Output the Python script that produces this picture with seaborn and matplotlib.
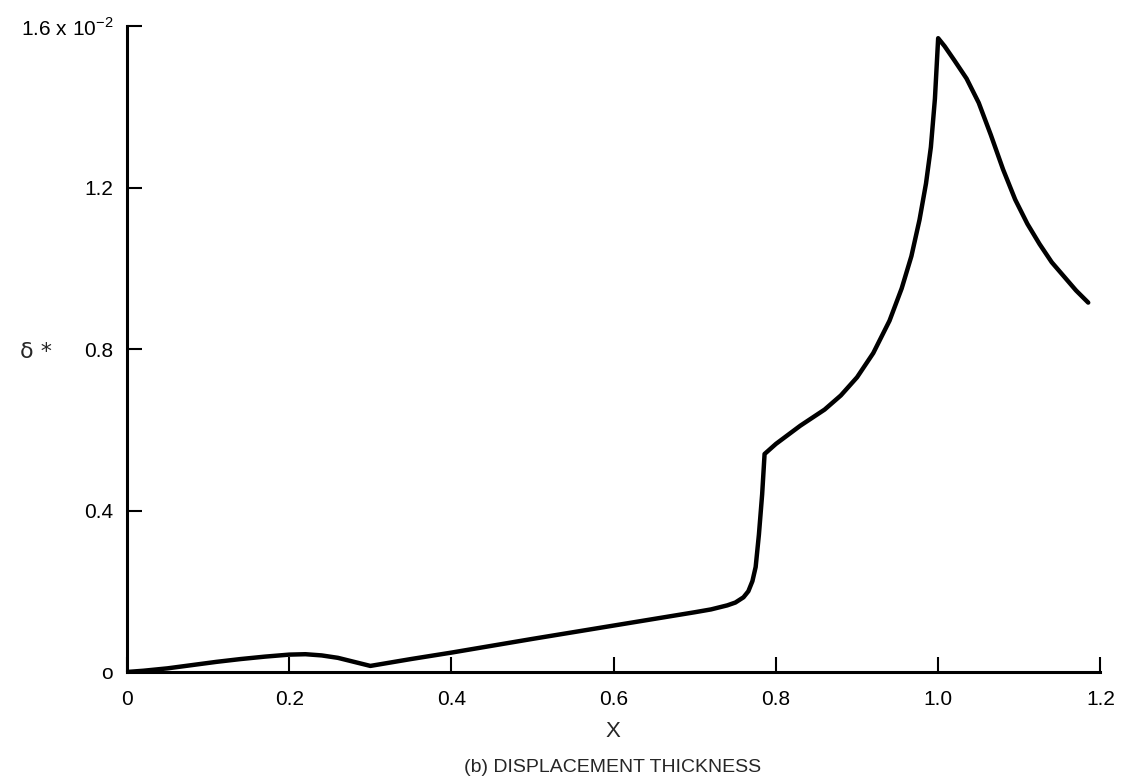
import numpy as np
import pandas as pd
import matplotlib
matplotlib.use("Agg")
import matplotlib.pyplot as plt
import seaborn as sns

# displacement thickness, delta* in units of 1e-2
x_vals = [0.0, 0.02, 0.05, 0.08, 0.11, 0.14, 0.17, 0.20, 0.22, 0.24,
          0.26, 0.28, 0.30, 0.35, 0.40, 0.50, 0.60, 0.70, 0.72, 0.74,
          0.75, 0.76, 0.766, 0.771, 0.775, 0.779, 0.783, 0.786, 0.80, 0.83,
          0.86, 0.88, 0.90, 0.92, 0.94, 0.955, 0.967, 0.977, 0.985, 0.991,
          0.996, 1.0, 1.008, 1.02, 1.035, 1.05, 1.065, 1.08, 1.095, 1.11,
          1.125, 1.14, 1.155, 1.17, 1.185]
delta_vals = [0.0, 0.003, 0.009, 0.017, 0.025, 0.032, 0.038, 0.043, 0.044, 0.041,
              0.035, 0.025, 0.015, 0.032, 0.048, 0.082, 0.115, 0.148, 0.155, 0.165,
              0.172, 0.185, 0.200, 0.225, 0.260, 0.340, 0.440, 0.540, 0.565, 0.610,
              0.650, 0.685, 0.730, 0.790, 0.870, 0.950, 1.030, 1.120, 1.210, 1.300,
              1.420, 1.570, 1.550, 1.515, 1.470, 1.410, 1.330, 1.245, 1.170, 1.110,
              1.060, 1.015, 0.980, 0.945, 0.915]

x_ticks = [0, 0.2, 0.4, 0.6, 0.8, 1.0, 1.2]
x_ticklabels = ["0", "0.2", "0.4", "0.6", "0.8", "1.0", "1.2"]
y_ticks = [0, 0.4, 0.8, 1.2, 1.6]
y_ticklabels = ["o", "0.4", "0.8", "1.2", r"1.6 x 10$^{-2}$"]

df = pd.DataFrame({"x": x_vals, "delta": delta_vals})

sns.set_style("ticks")
plt.rcParams["font.family"] = ["Liberation Sans", "DejaVu Sans"]
plt.rcParams["mathtext.fontset"] = "custom"
plt.rcParams["mathtext.rm"] = "Liberation Sans"

fig = plt.figure(figsize=(11.24, 7.81), dpi=100)
ax = fig.add_axes([0.113, 0.1396, 0.866, 0.827])

sns.lineplot(data=df, x="x", y="delta", sort=False, color="black",
             linewidth=3.2, ax=ax, solid_joinstyle="round",
             solid_capstyle="round")

ax.set_xlim(0, 1.2)
ax.set_ylim(0, 1.6)
ax.set_xticks(x_ticks)
ax.set_xticklabels(x_ticklabels)
ax.set_yticks(y_ticks)
ax.set_yticklabels(y_ticklabels)
ax.tick_params(axis="both", direction="in", length=11, width=1.5,
               labelsize=15, colors="black")
ax.tick_params(axis="x", pad=13)
ax.tick_params(axis="y", pad=10)
for side in ["top", "right"]:
    ax.spines[side].set_visible(False)
for side in ["left", "bottom"]:
    ax.spines[side].set_linewidth(2.2)
    ax.spines[side].set_color("black")

ax.set_xlabel("")
ax.set_ylabel("")
fig.text(0.018, 0.549, "δ *", fontsize=16, ha="left", va="center",
         family=["DejaVu Sans"])
fig.text(0.545, 0.063, "X", fontsize=16, ha="center", va="center")
fig.text(0.545, 0.017, "(b) DISPLACEMENT THICKNESS", fontsize=14,
         ha="center", va="center")

fig.savefig("out.png", dpi=100)
